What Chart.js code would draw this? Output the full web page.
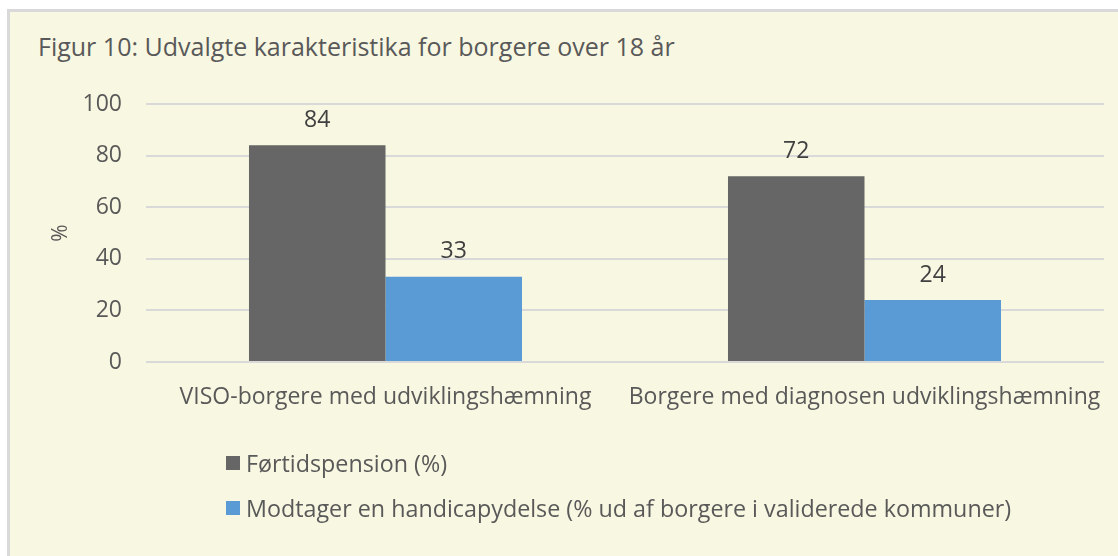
<!DOCTYPE html>
<html>
<head>
<meta charset="utf-8">
<script src="https://cdn.jsdelivr.net/npm/chart.js@4.4.0/dist/chart.umd.min.js"></script>
<style>
  html, body { margin: 0; padding: 0; background: #fff; }
  #panel {
    position: absolute; left: 7px; top: 9px; width: 1111px; height: 547px;
    background: #f8f7e1; border-left: 3px solid #d9d9d9; border-top: 3px solid #d9d9d9;
    box-sizing: border-box;
  }
  #wrap { position: absolute; left: 0; top: 0; width: 1118px; height: 556px; }
  #title {
    position: absolute; left: 38px; top: 29px; line-height: 34px; white-space: nowrap;
    font-family: "Open Sans", sans-serif; font-size: 25px; color: #595959;
  }
  #legend {
    position: absolute; left: 226px; top: 446px;
    font-family: "Open Sans", sans-serif; font-size: 23.3px; color: #595959;
  }
  .item { display: flex; align-items: center; height: 34px; margin-bottom: 11px; }
  .box { width: 14px; height: 14px; margin-right: 6px; }
</style>
</head>
<body>
<div id="panel"></div>
<div id="title"></div>
<div id="wrap"><canvas id="chart" width="1118" height="556"></canvas></div>
<div id="legend"></div>
<script>
const title = 'Figur 10: Udvalgte karakteristika for borgere over 18 år';
const categories = ['VISO-borgere med udviklingshæmning', 'Borgere med diagnosen udviklingshæmning'];
const seriesNames = ['Førtidspension (%)', 'Modtager en handicapydelse (% ud af borgere i validerede kommuner)'];
const fortidspension = [84, 72];
const handicapydelse = [33, 24];
const colors = ['#666666', '#5b9bd5'];

const font = '"Open Sans", sans-serif';
const textColor = '#595959';

document.getElementById('title').textContent = title;

// labels over bars
const valueLabels = {
  id: 'valueLabels',
  afterDatasetsDraw(chart) {
    const ctx = chart.ctx;
    ctx.save();
    ctx.font = '23px ' + font;
    ctx.fillStyle = '#404040';
    ctx.textAlign = 'center';
    ctx.textBaseline = 'middle';
    chart.data.datasets.forEach((ds, i) => {
      chart.getDatasetMeta(i).data.forEach((bar, j) => {
        ctx.fillText(ds.data[j], bar.x, bar.y - 25);
      });
    });
    ctx.restore();
  }
};

const chart = new Chart(document.getElementById('chart'), {
  type: 'bar',
  data: {
    labels: categories,
    datasets: [
      { label: seriesNames[0], data: fortidspension, backgroundColor: colors[0] },
      { label: seriesNames[1], data: handicapydelse, backgroundColor: colors[1] }
    ]
  },
  options: {
    responsive: false,
    animation: false,
    categoryPercentage: 0.57,
    barPercentage: 1,
    layout: { padding: { top: 104, left: 48, right: 14, bottom: 134 } },
    plugins: {
      legend: { display: false },
      tooltip: { enabled: false }
    },
    scales: {
      x: {
        grid: { display: false, drawTicks: false },
        border: { display: false },
        ticks: { color: textColor, font: { family: font, size: 23 }, padding: 22, maxRotation: 0 },
        afterFit(s) { s.height = 60; s.paddingLeft = 0; s.paddingRight = 0; }
      },
      y: {
        min: 0, max: 100,
        ticks: { stepSize: 20, color: textColor, font: { family: font, size: 23 }, padding: 24 },
        grid: { color: '#d9d9d9', lineWidth: 2, drawTicks: false },
        border: { display: false },
        title: { display: true, text: '%', color: textColor, font: { family: font, size: 21 }, padding: 0 },
        afterFit(s) { s.width = 98; }
      }
    }
  },
  plugins: [valueLabels]
});

// legend as a vertical list
const legend = document.getElementById('legend');
seriesNames.forEach((name, i) => {
  const item = document.createElement('div');
  item.className = 'item';
  item.innerHTML = '<span class="box" style="background:' + colors[i] + '"></span><span>' + name + '</span>';
  legend.appendChild(item);
});
</script>
</body>
</html>
